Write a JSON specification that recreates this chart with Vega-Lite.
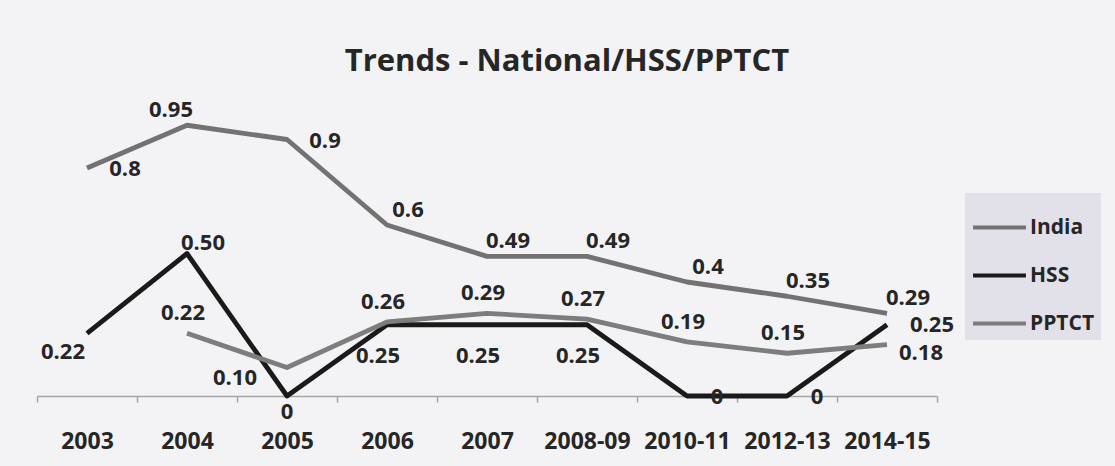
{
  "$schema": "https://vega.github.io/schema/vega-lite/v6.json",
  "width": 900,
  "height": 285,
  "autosize": {"type": "none"},
  "padding": {"left": 37, "top": 111, "right": 178, "bottom": 70},
  "background": "#f3f3f5",
  "config": {"view": {"stroke": null}},
  "title": {
    "text": "Trends - National/HSS/PPTCT",
    "font": "Open Sans",
    "fontSize": 31,
    "fontWeight": "bold",
    "color": "#262626",
    "anchor": "middle",
    "dx": 80,
    "offset": 21
  },
  "data": {
    "values": [
      {"period": "2003", "series": "India", "value": 0.8},
      {"period": "2004", "series": "India", "value": 0.95},
      {"period": "2005", "series": "India", "value": 0.9},
      {"period": "2006", "series": "India", "value": 0.6},
      {"period": "2007", "series": "India", "value": 0.49},
      {"period": "2008-09", "series": "India", "value": 0.49},
      {"period": "2010-11", "series": "India", "value": 0.4},
      {"period": "2012-13", "series": "India", "value": 0.35},
      {"period": "2014-15", "series": "India", "value": 0.29},
      {"period": "2003", "series": "HSS", "value": 0.22},
      {"period": "2004", "series": "HSS", "value": 0.5},
      {"period": "2005", "series": "HSS", "value": 0},
      {"period": "2006", "series": "HSS", "value": 0.25},
      {"period": "2007", "series": "HSS", "value": 0.25},
      {"period": "2008-09", "series": "HSS", "value": 0.25},
      {"period": "2010-11", "series": "HSS", "value": 0},
      {"period": "2012-13", "series": "HSS", "value": 0},
      {"period": "2014-15", "series": "HSS", "value": 0.25},
      {"period": "2004", "series": "PPTCT", "value": 0.22},
      {"period": "2005", "series": "PPTCT", "value": 0.1},
      {"period": "2006", "series": "PPTCT", "value": 0.26},
      {"period": "2007", "series": "PPTCT", "value": 0.29},
      {"period": "2008-09", "series": "PPTCT", "value": 0.27},
      {"period": "2010-11", "series": "PPTCT", "value": 0.19},
      {"period": "2012-13", "series": "PPTCT", "value": 0.15},
      {"period": "2014-15", "series": "PPTCT", "value": 0.18}
    ]
  },
  "transform": [
    {
      "calculate": "datum.series === 'India' || datum.value === 0 ? '' + datum.value : format(datum.value, '.2f')",
      "as": "label"
    }
  ],
  "encoding": {
    "x": {
      "field": "period",
      "type": "ordinal",
      "sort": ["2003", "2004", "2005", "2006", "2007", "2008-09", "2010-11", "2012-13", "2014-15"],
      "bandPosition": 0.5,
      "scale": {"type": "band", "paddingInner": 0, "paddingOuter": 0},
      "axis": {
        "title": null,
        "labelAngle": 0,
        "labelFont": "Open Sans",
        "labelFontSize": 23,
        "labelFontWeight": "bold",
        "labelColor": "#262626",
        "labelPadding": 28,
        "domainColor": "#a6a6a6",
        "domainWidth": 1.5,
        "tickColor": "#a6a6a6",
        "tickWidth": 1.5,
        "tickSize": 6,
        "tickBand": "extent",
        "grid": false
      }
    },
    "y": {
      "field": "value",
      "type": "quantitative",
      "scale": {"domain": [0, 1]},
      "axis": null
    },
    "text": {"field": "label", "type": "nominal"}
  },
  "layer": [
    {
      "mark": {"type": "line", "strokeWidth": 4.8, "strokeJoin": "round"},
      "encoding": {
        "text": null,
        "color": {
          "field": "series",
          "type": "nominal",
          "scale": {
            "domain": ["India", "HSS", "PPTCT"],
            "range": ["#727272", "#1a1a1a", "#7d7d7d"]
          },
          "legend": {
            "orient": "none",
            "legendX": 928,
            "legendY": 82,
            "title": null,
            "fillColor": "#e2e1e9",
            "padding": 6,
            "symbolType": "stroke",
            "symbolSize": 2800,
            "symbolStrokeWidth": 4,
            "labelFont": "Open Sans",
            "labelFontSize": 21,
            "labelFontWeight": "bold",
            "labelColor": "#262626",
            "labelOffset": 2,
            "rowPadding": 9
          }
        }
      }
    },
    {
      "transform": [{"filter": "datum.series === 'India' && indexof(['2003', '2004', '2005'], datum.period) < 0"}],
      "mark": {"type": "text", "font": "Open Sans", "fontSize": 22, "fontWeight": "bold", "color": "#262626", "dx": 21, "dy": -15}
    },
    {
      "transform": [{"filter": "datum.series === 'India' && indexof(['2003', '2005'], datum.period) >= 0"}],
      "mark": {"type": "text", "font": "Open Sans", "fontSize": 22, "fontWeight": "bold", "color": "#262626", "dx": 38, "dy": 1}
    },
    {
      "transform": [{"filter": "datum.series === 'India' && datum.period === '2004'"}],
      "mark": {"type": "text", "font": "Open Sans", "fontSize": 22, "fontWeight": "bold", "color": "#262626", "dx": -16, "dy": -15}
    },
    {
      "transform": [{"filter": "datum.series === 'HSS' && indexof(['2006', '2007', '2008-09'], datum.period) >= 0"}],
      "mark": {"type": "text", "font": "Open Sans", "fontSize": 22, "fontWeight": "bold", "color": "#262626", "dx": -9, "dy": 31}
    },
    {
      "transform": [{"filter": "datum.series === 'HSS' && datum.period === '2003'"}],
      "mark": {"type": "text", "font": "Open Sans", "fontSize": 22, "fontWeight": "bold", "color": "#262626", "dx": -24, "dy": 19}
    },
    {
      "transform": [{"filter": "datum.series === 'HSS' && datum.period === '2004'"}],
      "mark": {"type": "text", "font": "Open Sans", "fontSize": 22, "fontWeight": "bold", "color": "#262626", "dx": 16, "dy": -11}
    },
    {
      "transform": [{"filter": "datum.series === 'HSS' && datum.period === '2005'"}],
      "mark": {"type": "text", "font": "Open Sans", "fontSize": 22, "fontWeight": "bold", "color": "#262626", "dx": 0, "dy": 16}
    },
    {
      "transform": [{"filter": "datum.series === 'HSS' && indexof(['2010-11', '2012-13'], datum.period) >= 0"}],
      "mark": {"type": "text", "font": "Open Sans", "fontSize": 22, "fontWeight": "bold", "color": "#262626", "dx": 30, "dy": 1}
    },
    {
      "transform": [{"filter": "datum.series === 'HSS' && datum.period === '2014-15'"}],
      "mark": {"type": "text", "font": "Open Sans", "fontSize": 22, "fontWeight": "bold", "color": "#262626", "dx": 45, "dy": 0}
    },
    {
      "transform": [{"filter": "datum.series === 'PPTCT' && indexof(['2005', '2014-15'], datum.period) < 0"}],
      "mark": {"type": "text", "font": "Open Sans", "fontSize": 22, "fontWeight": "bold", "color": "#262626", "dx": -4, "dy": -20}
    },
    {
      "transform": [{"filter": "datum.series === 'PPTCT' && datum.period === '2005'"}],
      "mark": {"type": "text", "font": "Open Sans", "fontSize": 22, "fontWeight": "bold", "color": "#262626", "dx": -52, "dy": 10}
    },
    {
      "transform": [{"filter": "datum.series === 'PPTCT' && datum.period === '2014-15'"}],
      "mark": {"type": "text", "font": "Open Sans", "fontSize": 22, "fontWeight": "bold", "color": "#262626", "dx": 34, "dy": 8}
    }
  ]
}
